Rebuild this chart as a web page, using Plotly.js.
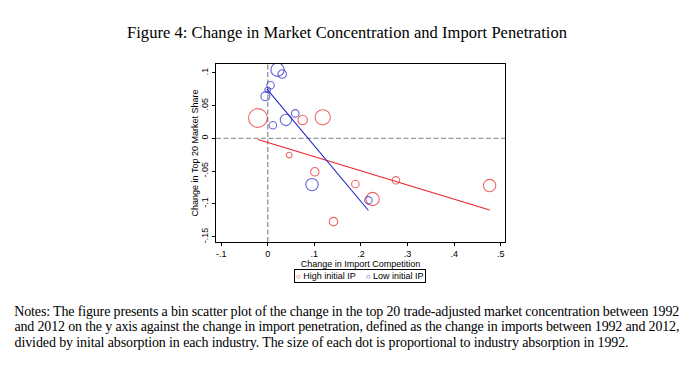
<!DOCTYPE html>
<html>
<head>
<meta charset="utf-8">
<script src="https://cdn.plot.ly/plotly-3.0.1.min.js"></script>
<style>html,body{margin:0;padding:0;background:#fff}#chart{width:700px;height:371px}</style>
</head>
<body>
<div id="chart"></div>
<script>
// ---- data ----
var seriesNames = ["High initial IP", "Low initial IP"];

var highX = [-0.021, 0.075, 0.118, 0.046, 0.101, 0.188, 0.275, 0.476, 0.225, 0.141];
var highY = [0.031, 0.028, 0.032, -0.0255, -0.051, -0.0695, -0.064, -0.072, -0.0925, -0.127];
var highAbsorption = [44, 11, 29, 4, 9, 7, 7, 19, 22, 9];

var lowX = [0.021, 0.031, 0.006, 0.000, -0.005, 0.011, 0.039, 0.059, 0.095, 0.216];
var lowY = [0.1046, 0.098, 0.081, 0.074, 0.064, 0.020, 0.028, 0.038, -0.0705, -0.0945];
var lowAbsorption = [22, 9, 7, 4, 10, 7, 16, 7, 19, 7];

// fitted lines (endpoints)
var highFitX = [-0.021, 0.476];
var highFitY = [-0.0018, -0.1093];
var lowFitX = [-0.002, 0.216];
var lowFitY = [0.0755, -0.110];

var xTickVals = [-0.1, 0, 0.1, 0.2, 0.3, 0.4, 0.5];
var xTickText = ["-.1", "0", ".1", ".2", ".3", ".4", ".5"];
var yTickVals = [0.1, 0.05, 0, -0.05, -0.1, -0.15];
var yTickText = [".1", ".05", "0", "-.05", "-.1", "-.15"];

var titleText = "Figure 4: Change in Market Concentration and Import Penetration";
var xTitle = "Change in Import Competition";
var yTitle = "Change in Top 20 Market Share";
var noteLines = [
  "Notes: The figure presents a bin scatter plot of the change in the top 20 trade-adjusted market concentration between 1992",
  "and 2012 on the y axis against the change in import penetration, defined as the change in imports between 1992 and 2012,",
  "divided by inital absorption in each industry. The size of each dot is proportional to industry absorption in 1992."
];

// ---- styling ----
var RED = "#e8262a";
var BLUE = "#2424c8";
var W = 700, H = 371;
var L = 216, R = 505, T = 64, B = 242;
function px2paperX(p){ return (p - L) / (R - L); }
function px2paperY(p){ return (B - p) / (B - T); }
var SANS = "Liberation Sans, Arial, sans-serif";
var SERIF = "Liberation Serif, serif";

// note line geometry: [left, right] in px
var noteSpans = [[14, 679], [14, 679], [14, 628]];
var noteY = [311, 326.5, 342];

var traces = [
  {x: highX, y: highY, name: seriesNames[0], type: "scatter", mode: "markers", showlegend: false,
   marker: {symbol: "circle-open", color: RED, size: highAbsorption, sizemode: "area", sizeref: 0.25, line: {width: 1.1}}},
  {x: lowX, y: lowY, name: seriesNames[1], type: "scatter", mode: "markers", showlegend: false,
   marker: {symbol: "circle-open", color: BLUE, size: lowAbsorption, sizemode: "area", sizeref: 0.25, line: {width: 1.1}}},
  {x: highFitX, y: highFitY, type: "scatter", mode: "lines", showlegend: false, hoverinfo: "skip",
   line: {color: RED, width: 1.1}},
  {x: lowFitX, y: lowFitY, type: "scatter", mode: "lines", showlegend: false, hoverinfo: "skip",
   line: {color: BLUE, width: 1.1}}
];

var annotations = [];
noteLines.forEach(function(t, i){
  annotations.push({
    text: t, xref: "paper", yref: "paper",
    x: px2paperX((noteSpans[i][0] + noteSpans[i][1]) / 2), y: px2paperY(noteY[i]),
    xanchor: "center", yanchor: "middle", showarrow: false, name: "note" + i,
    font: {family: SERIF, size: 14, color: "#000"}
  });
});
annotations.push({
  text: '<span style="color:' + RED + ';font-size:8px">○</span> ' + seriesNames[0] +
        '    <span style="color:' + BLUE + ';font-size:8px">○</span> ' + seriesNames[1],
  xref: "paper", yref: "paper", x: px2paperX(359.5), y: px2paperY(276), xanchor: "center", yanchor: "middle",
  showarrow: false, bordercolor: "#000", borderwidth: 1, borderpad: 1,
  font: {family: SANS, size: 9, color: "#000"}
});

var layout = {
  width: W, height: H,
  paper_bgcolor: "#fff", plot_bgcolor: "#fff",
  margin: {l: L, r: W - R, t: T, b: H - B, pad: 0},
  showlegend: false,
  title: {text: titleText, xref: "container", yref: "container", x: 347 / W, y: 1 - 32 / H,
          xanchor: "center", yanchor: "middle",
          font: {family: SERIF, size: 16.5, color: "#000"}},
  xaxis: {range: [-0.111, 0.509], tickvals: xTickVals, ticktext: xTickText, ticks: "outside", ticklen: 3,
          tickcolor: "#000", tickwidth: 1, showgrid: false, zeroline: false, showline: true, mirror: true,
          linecolor: "#000", linewidth: 1,
          tickfont: {family: SANS, size: 9, color: "#000"},
          title: {text: xTitle, standoff: 1, font: {family: SANS, size: 9, color: "#000"}}},
  yaxis: {range: [-0.158, 0.1133], tickvals: yTickVals, ticktext: yTickText, ticks: "outside", ticklen: 3,
          tickcolor: "#000", tickwidth: 1, tickangle: -90, showgrid: false, zeroline: false, showline: true, mirror: true,
          linecolor: "#000", linewidth: 1,
          tickfont: {family: SANS, size: 9, color: "#000"},
          title: {text: yTitle, standoff: 0, font: {family: SANS, size: 9, color: "#000"}}},
  shapes: [
    {type: "line", xref: "x", yref: "paper", x0: 0, x1: 0, y0: 0, y1: 1, line: {color: "#999", width: 1.4, dash: "5px,2.5px"}, layer: "below"},
    {type: "line", xref: "paper", yref: "y", x0: 0, x1: 1, y0: 0, y1: 0, line: {color: "#999", width: 1.4, dash: "5px,2.5px"}, layer: "below"}
  ],
  annotations: annotations
};

Plotly.newPlot("chart", traces, layout, {staticPlot: true, displayModeBar: false}).then(function(gd){
  // stretch the notes to the justified widths of the reference
  var texts = gd.querySelectorAll(".annotation-text");
  for (var i = 0; i < noteLines.length && i < texts.length; i++) {
    texts[i].setAttribute("textLength", noteSpans[i][1] - noteSpans[i][0]);
    texts[i].setAttribute("lengthAdjust", "spacing");
  }
  var t = gd.querySelector(".gtitle");
  if (t) { t.setAttribute("textLength", 440); t.setAttribute("lengthAdjust", "spacing"); }
});
</script>
</body>
</html>
